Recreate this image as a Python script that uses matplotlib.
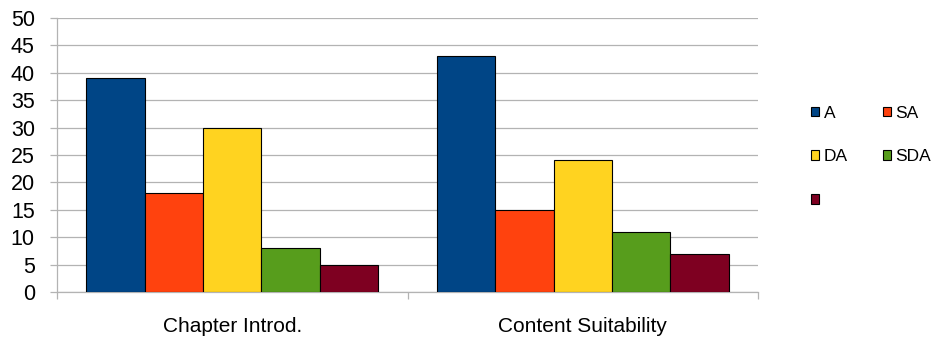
import matplotlib.pyplot as plt
import numpy as np

plt.rcParams["font.family"] = ["Liberation Sans", "DejaVu Sans"]

categories = ["Chapter Introd.", "Content Suitability"]
series_names = ["A", "SA", "DA", "SDA", ""]
series_values = [
    [39, 43],
    [18, 15],
    [30, 24],
    [8, 11],
    [5, 7],
]
colors = ["#004586", "#ff420e", "#ffd320", "#579d1c", "#7e0021"]

fig = plt.figure(figsize=(9.38, 3.39), dpi=100)
ax = fig.add_axes([0.0608, 0.1386, 0.7473, 0.8083])

x = np.arange(len(categories))
n = len(series_values)
width = 0.8333 / n
bars = []
for k, vals in enumerate(series_values):
    offs = (k - (n - 1) / 2) * width
    b = ax.bar(x + offs, vals, width, color=colors[k], edgecolor="black",
               linewidth=0.8, label=series_names[k], zorder=3)
    bars.append(b)

ax.set_xlim(-0.5, len(categories) - 0.5)
ax.set_ylim(0, 50)
ax.set_yticks(np.arange(0, 51, 5))
ax.yaxis.grid(True, color="#b3b3b3", linewidth=0.9, zorder=0)

# category boundaries as tick marks, labels centred under each group
ax.set_xticks(np.arange(-0.5, len(categories), 1.0))
ax.set_xticklabels([])
ax.set_xticks(x, minor=True)
ax.set_xticklabels(categories, minor=True)
ax.tick_params(axis="x", which="major", length=5, color="#b3b3b3", width=0.9)
ax.tick_params(axis="x", which="minor", length=0, pad=18, labelsize=15)
ax.tick_params(axis="y", length=5, color="#b3b3b3", width=0.9, labelsize=15.5, pad=11)

for side in ["top", "right"]:
    ax.spines[side].set_visible(False)
ax.spines["left"].set_color("#b3b3b3")
ax.spines["bottom"].set_color("#b3b3b3")
ax.spines["left"].set_linewidth(0.9)
ax.spines["bottom"].set_linewidth(0.9)

# row-first ordering for the two-column legend
order = [0, 2, 4, 1, 3]
fig.legend([bars[i] for i in order], [series_names[i] for i in order],
           ncol=2, frameon=False, loc="upper left", borderpad=0,
           bbox_to_anchor=(0.855, 0.714), fontsize=12.5,
           handlelength=0.5, handleheight=0.5, handletextpad=0.25,
           labelspacing=1.65, columnspacing=2.0)

fig.savefig("out.png", dpi=100)
